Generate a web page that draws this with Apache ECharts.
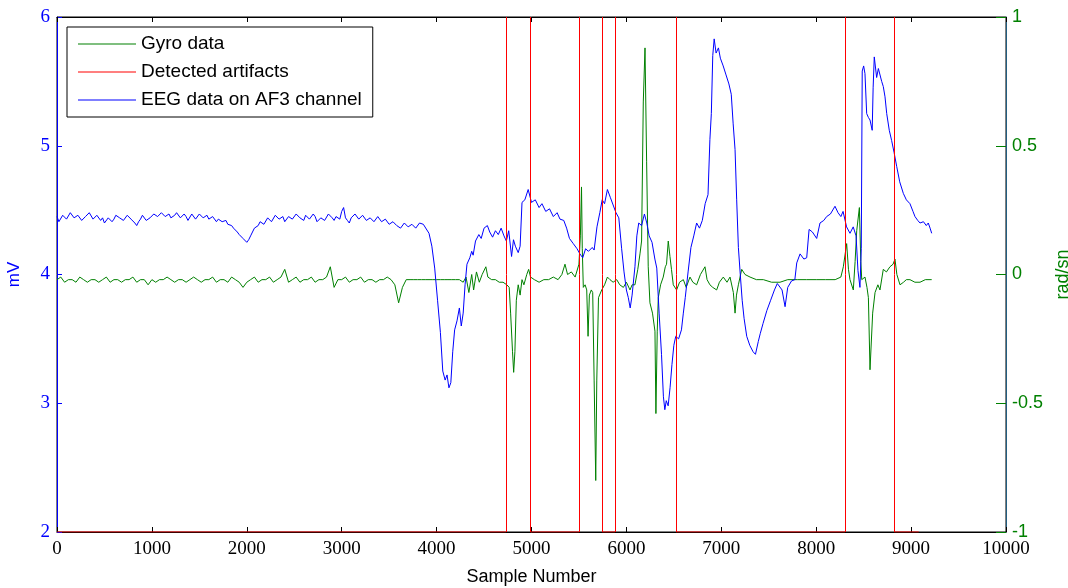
<!DOCTYPE html>
<html>
<head>
<meta charset="utf-8">
<script src="https://cdn.jsdelivr.net/npm/echarts@6/dist/echarts.min.js"></script>
<style>
  html, body { margin: 0; padding: 0; background: #fff; }
  #eeg-chart { width: 1068px; height: 588px; }
</style>
</head>
<body>
<div id="eeg-chart"></div>
<script>
// EEG quiet part is read every 20 samples, gyro quiet part every 40
var eegStep = 20;
var gyroStep = 40;

// EEG (mV), samples 0..3880
var eegQuiet = [
  4.45, 4.41, 4.42, 4.46, 4.47, 4.43, 4.44, 4.48, 4.48, 4.44, 4.43, 4.46, 4.46, 4.42, 4.41, 4.45, 4.45, 4.48, 4.47, 4.43, 4.43, 4.46, 4.46, 4.42, 4.44,
  4.40, 4.40, 4.44, 4.45, 4.41, 4.43, 4.46, 4.47, 4.44, 4.45, 4.42, 4.42, 4.46, 4.46, 4.43, 4.44, 4.40, 4.38, 4.41, 4.43, 4.46, 4.45, 4.42, 4.41, 4.44,
  4.44, 4.47, 4.48, 4.45, 4.44, 4.48, 4.49, 4.45, 4.45, 4.47, 4.44, 4.43, 4.46, 4.48, 4.47, 4.44, 4.44, 4.47, 4.45, 4.42, 4.43, 4.47, 4.46, 4.43, 4.44,
  4.47, 4.48, 4.44, 4.44, 4.46, 4.43, 4.42, 4.45, 4.44, 4.41, 4.43, 4.44, 4.41, 4.41, 4.42, 4.39, 4.40, 4.38, 4.36, 4.36, 4.33, 4.31, 4.31, 4.28, 4.27,
  4.25, 4.27, 4.30, 4.33, 4.36, 4.35, 4.38, 4.41, 4.42, 4.39, 4.40, 4.44, 4.44, 4.41, 4.42, 4.46, 4.46, 4.43, 4.43, 4.45, 4.41, 4.40, 4.45, 4.46, 4.43,
  4.42, 4.47, 4.48, 4.44, 4.43, 4.42, 4.46, 4.46, 4.43, 4.44, 4.47, 4.45, 4.41, 4.41, 4.44, 4.45, 4.42, 4.43, 4.47, 4.48, 4.44, 4.42, 4.45, 4.46, 4.43,
  4.49, 4.52, 4.44, 4.42, 4.40, 4.44, 4.45, 4.47, 4.47, 4.43, 4.43, 4.46, 4.46, 4.42, 4.41, 4.44, 4.44, 4.41, 4.42, 4.45, 4.45, 4.41, 4.40, 4.43, 4.43,
  4.39, 4.38, 4.41, 4.41, 4.38, 4.39, 4.36, 4.37, 4.40, 4.40, 4.37, 4.36, 4.39, 4.39, 4.36, 4.37, 4.40, 4.41, 4.39, 4.38
];

// EEG (mV), [sample, value] from 3920 on
var eegActive = [
  [3920,4.32],[3950,4.22],[3980,4.05],[4010,3.80],[4040,3.55],[4065,3.25],[4090,3.18],[4110,3.22],[4130,3.12],[4150,3.16],
  [4170,3.40],[4190,3.57],[4215,3.64],[4240,3.74],[4260,3.60],[4280,3.70],[4300,3.92],[4320,4.08],[4350,4.13],[4370,4.18],
  [4385,4.15],[4410,4.26],[4445,4.31],[4470,4.28],[4500,4.36],[4535,4.38],[4560,4.33],[4590,4.29],[4620,4.34],[4650,4.31],
  [4680,4.36],[4710,4.30],[4735,4.26],[4760,4.34],[4790,4.14],[4810,4.27],[4830,4.22],[4860,4.17],[4880,4.22],[4900,4.56],
  [4930,4.58],[4965,4.66],[5000,4.56],[5040,4.58],[5080,4.52],[5110,4.55],[5150,4.49],[5190,4.51],[5230,4.45],[5270,4.48],
  [5300,4.43],[5340,4.42],[5370,4.36],[5400,4.28],[5440,4.24],[5480,4.20],[5510,4.16],[5540,4.13],[5570,4.20],[5600,4.18],
  [5640,4.21],[5660,4.19],[5690,4.37],[5720,4.48],[5745,4.58],[5770,4.55],[5800,4.66],[5830,4.60],[5860,4.54],[5890,4.48],
  [5920,4.44],[5950,4.20],[5975,4.02],[6000,3.88],[6020,3.82],[6040,3.74],[6060,3.84],[6090,4.06],[6110,4.30],[6130,4.40],
  [6160,4.38],[6190,4.47],[6215,4.40],[6240,4.30],[6270,4.25],[6300,4.12],[6320,4.05],[6345,3.70],[6370,3.38],[6390,3.05],
  [6405,2.95],[6420,3.02],[6440,2.98],[6460,3.12],[6480,3.30],[6500,3.45],[6520,3.52],[6550,3.50],[6580,3.57],[6600,3.70],
  [6620,3.82],[6650,4.02],[6680,4.21],[6710,4.30],[6740,4.40],[6770,4.36],[6800,4.42],[6830,4.55],[6860,4.62],[6880,5.05],
  [6895,5.25],[6910,5.70],[6925,5.83],[6945,5.72],[6970,5.76],[6990,5.68],[7020,5.62],[7050,5.55],[7080,5.48],[7105,5.40],
  [7125,5.17],[7145,4.97],[7162,4.58],[7180,4.21],[7200,4.00],[7220,3.80],[7240,3.66],[7268,3.52],[7300,3.45],[7335,3.40],
  [7360,3.38],[7390,3.48],[7410,3.54],[7440,3.62],[7480,3.72],[7520,3.80],[7560,3.88],[7590,3.93],[7640,3.88],[7672,3.75],
  [7700,3.90],[7740,3.95],[7775,3.96],[7795,4.09],[7830,4.16],[7870,4.12],[7900,4.13],[7925,4.35],[7960,4.33],[8005,4.28],
  [8040,4.40],[8080,4.42],[8110,4.45],[8150,4.47],[8198,4.53],[8230,4.48],[8260,4.45],[8283,4.49],[8320,4.37],[8356,4.32],
  [8390,4.37],[8420,4.30],[8440,4.03],[8461,3.90],[8475,4.20],[8485,5.58],[8500,5.62],[8514,5.56],[8532,5.25],[8550,5.22],
  [8567,5.20],[8590,5.12],[8600,5.45],[8612,5.69],[8637,5.53],[8655,5.60],[8672,5.59],[8690,5.50],[8707,5.46],[8725,5.38],
  [8743,5.25],[8770,5.12],[8795,5.04],[8820,4.95],[8848,4.84],[8880,4.72],[8918,4.63],[8950,4.58],[8988,4.55],[9020,4.49],
  [9041,4.45],[9070,4.42],[9094,4.40],[9130,4.41],[9160,4.38],[9181,4.40],[9200,4.36],[9217,4.32]
];

// gyro (rad/sn), samples 0..4280
var gyroQuiet = [
  -0.02, -0.01, -0.03, -0.02, -0.02, -0.03, -0.01, -0.02, -0.03, -0.02, -0.02, -0.03, -0.02, -0.01, -0.03, -0.02, -0.02, -0.03, -0.02, -0.02, -0.01, -0.03, -0.02, -0.02, -0.04,
  -0.02, -0.03, -0.02, -0.02, -0.01, -0.02, -0.03, -0.02, -0.02, -0.03, -0.02, -0.01, -0.02, -0.03, -0.02, -0.02, -0.01, -0.03, -0.02, -0.02, -0.03, -0.01, -0.02, -0.03, -0.05,
  -0.03, -0.02, -0.01, -0.03, -0.02, -0.02, -0.01, -0.03, -0.02, -0.01, 0.02, -0.03, -0.02, -0.01, -0.03, -0.02, -0.02, -0.01, -0.03, -0.02, -0.02, -0.01, 0.03, -0.05, -0.02,
  -0.02, -0.01, -0.03, -0.02, -0.02, -0.01, -0.03, -0.02, -0.02, -0.03, -0.02, -0.02, -0.01, -0.02, -0.04, -0.11, -0.05, -0.02, -0.02, -0.02, -0.02, -0.02, -0.02, -0.02, -0.02,
  -0.02, -0.02, -0.02, -0.02, -0.02, -0.02, -0.02, -0.03
];

// gyro (rad/sn), [sample, value] from 4310 on
var gyroActive = [
  [4310,-0.01],[4340,-0.07],[4370,0.00],[4390,-0.06],[4420,0.01],[4450,-0.03],[4480,0.00],[4519,0.03],[4540,-0.01],[4580,-0.02],
  [4620,-0.02],[4660,-0.03],[4700,-0.03],[4740,-0.04],[4765,-0.05],[4780,-0.15],[4800,-0.30],[4812,-0.38],[4825,-0.30],[4840,-0.10],
  [4860,-0.04],[4880,-0.08],[4900,-0.02],[4920,-0.04],[4950,0.00],[4970,0.02],[4990,-0.01],[5030,-0.02],[5080,-0.03],[5130,-0.02],
  [5180,-0.02],[5230,-0.01],[5280,-0.02],[5320,0.00],[5353,0.04],[5380,0.00],[5420,0.01],[5460,-0.01],[5500,0.04],[5515,0.15],
  [5527,0.34],[5535,0.10],[5546,-0.05],[5565,-0.04],[5582,-0.06],[5596,-0.24],[5610,-0.08],[5630,-0.06],[5645,-0.07],[5660,-0.41],
  [5677,-0.80],[5688,-0.41],[5706,-0.09],[5740,-0.06],[5770,-0.04],[5800,-0.01],[5827,-0.02],[5860,-0.03],[5898,-0.02],[5930,-0.04],
  [5968,-0.05],[6000,-0.03],[6038,-0.06],[6060,-0.04],[6090,-0.04],[6120,0.02],[6143,0.08],[6160,0.13],[6178,0.67],[6196,0.88],
  [6213,0.44],[6230,0.03],[6248,-0.11],[6275,-0.15],[6301,-0.22],[6311,-0.54],[6325,-0.22],[6336,-0.09],[6360,-0.04],[6388,-0.01],
  [6410,0.03],[6423,0.04],[6441,0.13],[6459,0.07],[6475,0.02],[6494,-0.04],[6529,-0.06],[6560,-0.03],[6600,-0.02],[6630,-0.05],
  [6670,-0.01],[6700,-0.03],[6740,-0.04],[6780,0.00],[6828,0.03],[6850,-0.02],[6880,-0.04],[6910,-0.05],[6951,-0.06],[6980,-0.03],
  [7021,-0.01],[7060,-0.03],[7092,-0.01],[7127,-0.07],[7145,-0.15],[7160,-0.08],[7180,-0.04],[7215,0.02],[7250,0.00],[7303,-0.01],
  [7370,-0.02],[7443,-0.02],[7530,-0.03],[7619,-0.03],[7700,-0.02],[7800,-0.02],[7900,-0.02],[8000,-0.02],[8100,-0.02],[8200,-0.02],
  [8260,-0.01],[8286,0.03],[8321,0.12],[8340,0.02],[8356,-0.02],[8391,-0.06],[8410,0.05],[8427,0.17],[8455,0.26],[8470,0.05],
  [8480,-0.02],[8514,-0.01],[8535,-0.05],[8550,-0.09],[8567,-0.37],[8595,-0.15],[8620,-0.07],[8650,-0.04],[8672,-0.06],[8707,0.02],
  [8740,0.01],[8777,0.03],[8810,0.04],[8830,0.06],[8850,0.00],[8883,-0.04],[8920,-0.03],[8950,-0.02],[8988,-0.02],[9040,-0.03],
  [9094,-0.03],[9150,-0.02],[9217,-0.02]
];

// detected artifact intervals (sample numbers); the flag is high inside them
var artifactStart = [4730, 5500, 5880, 8303];
var artifactEnd = [4984, 5743, 6523, 8820];
var artifactLast = 9080;
var flagLow = -1;

var eegData = eegQuiet.map(function (v, i) { return [i * eegStep, v]; }).concat(eegActive);
var gyroData = gyroQuiet.map(function (v, i) { return [i * gyroStep, v]; }).concat(gyroActive);

// low level outside the intervals, gap (null) while the flag is high
var artifactData = [[0, flagLow]];
var artifactEdges = [];
for (var i = 0; i < artifactStart.length; i++) {
  artifactData.push([artifactStart[i], flagLow], [artifactStart[i], null],
                    [artifactEnd[i], flagLow]);
  artifactEdges.push({ xAxis: artifactStart[i] }, { xAxis: artifactEnd[i] });
}
artifactData.push([artifactLast, flagLow]);

var serif = 'Liberation Serif';
var sans = 'Liberation Sans';

var chartDom = document.getElementById('eeg-chart');
var myChart = echarts.init(chartDom);
var option;

option = {
  animation: false,
  backgroundColor: '#fff',
  grid: {
    left: 57, right: 62, top: 17, bottom: 56,
    outerBoundsMode: 'none',
    show: true, borderColor: '#000', borderWidth: 1, backgroundColor: 'transparent'
  },
  legend: {
    left: 67, top: 27,
    orient: 'vertical',
    data: ['Gyro data', 'Detected artifacts', 'EEG data on AF3 channel'],
    icon: 'rect',
    itemWidth: 58, itemHeight: 1, itemGap: 8,
    padding: [7, 11, 7, 11],
    borderColor: '#000', borderWidth: 1, backgroundColor: '#fff',
    textStyle: { fontFamily: sans, fontSize: 19, color: '#000', lineHeight: 20 }
  },
  xAxis: [
    {
      type: 'value', min: 0, max: 10000, interval: 1000,
      name: 'Sample Number', nameLocation: 'middle', nameGap: 36,
      nameTextStyle: { fontFamily: sans, fontSize: 18, color: '#000' },
      axisLine: { onZero: false, lineStyle: { color: '#000' } },
      axisTick: { inside: true, length: 5, lineStyle: { color: '#000' } },
      axisLabel: { fontFamily: serif, fontSize: 19, color: '#000', margin: 8,
                   formatter: function (v) { return String(v); } },
      splitLine: { show: false }
    },
    {
      type: 'value', min: 0, max: 10000, interval: 1000, position: 'top',
      axisLine: { onZero: false, lineStyle: { color: '#000' } },
      axisTick: { inside: true, length: 5, lineStyle: { color: '#000' } },
      axisLabel: { show: false },
      splitLine: { show: false }
    }
  ],
  yAxis: [
    {
      type: 'value', min: 2, max: 6, interval: 1, position: 'left',
      name: 'mV', nameLocation: 'middle', nameGap: 34,
      nameTextStyle: { fontFamily: sans, fontSize: 17, color: '#0000ff' },
      axisLine: { show: true, onZero: false, lineStyle: { color: '#0000ff' } },
      axisTick: { show: true, inside: true, length: 5, lineStyle: { color: '#0000ff' } },
      axisLabel: { fontFamily: serif, fontSize: 19, color: '#0000ff', margin: 7 },
      splitLine: { show: false }
    },
    {
      type: 'value', min: -1, max: 1, interval: 0.5, position: 'right',
      name: 'rad/sn', nameLocation: 'middle', nameGap: 45,
      nameTextStyle: { fontFamily: sans, fontSize: 18, color: '#008000' },
      axisLine: { show: true, onZero: false, lineStyle: { color: '#215d80' } },
      axisTick: { show: true, inside: true, length: 10, lineStyle: { color: '#008000' } },
      axisLabel: { fontFamily: sans, fontSize: 18, color: '#008000', margin: 6 },
      splitLine: { show: false }
    }
  ],
  series: [
    {
      name: 'Gyro data', type: 'line', yAxisIndex: 1,
      data: gyroData, symbol: 'none', clip: true,
      lineStyle: { color: '#008000', width: 1 }, itemStyle: { color: '#008000' }
    },
    {
      name: 'Detected artifacts', type: 'line', yAxisIndex: 1,
      data: artifactData, symbol: 'none', clip: true, connectNulls: false,
      lineStyle: { color: '#ff0000', width: 1.2 }, itemStyle: { color: '#ff0000' },
      markLine: {
        silent: true, symbol: 'none', label: { show: false },
        lineStyle: { color: '#ff0000', type: 'solid', width: 1 },
        data: artifactEdges
      }
    },
    {
      name: 'EEG data on AF3 channel', type: 'line', yAxisIndex: 0,
      data: eegData, symbol: 'none', clip: true,
      lineStyle: { color: '#0000ff', width: 1 }, itemStyle: { color: '#0000ff' }
    }
  ]
};

option && myChart.setOption(option);
</script>
</body>
</html>
